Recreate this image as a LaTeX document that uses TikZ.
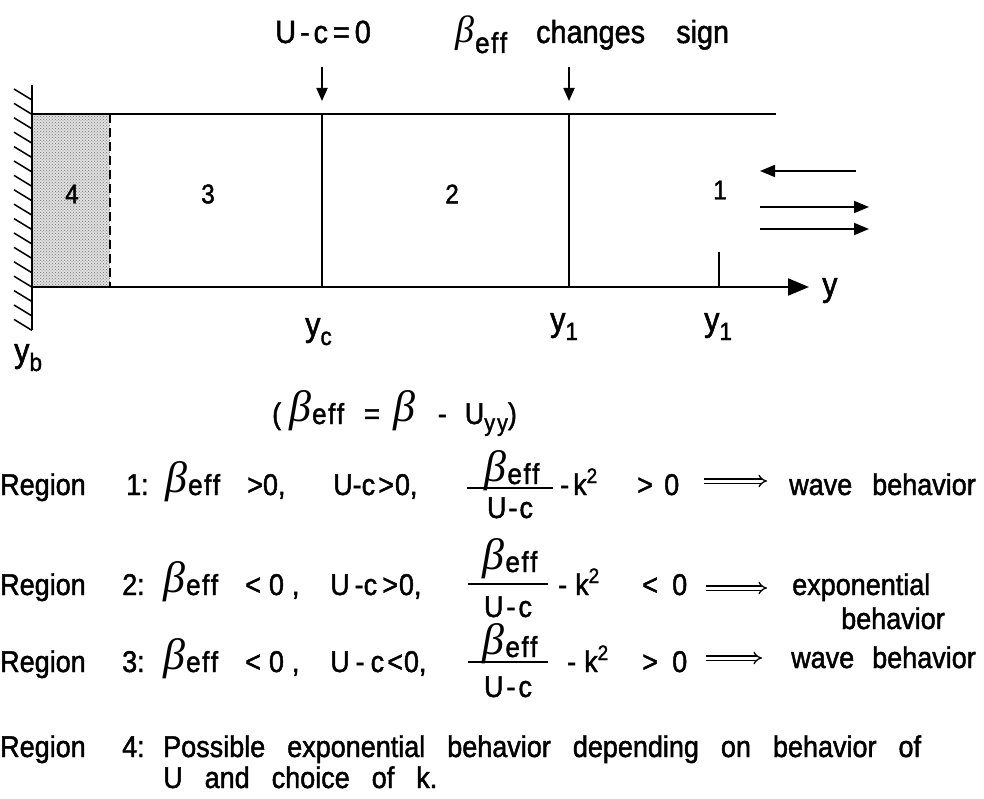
\documentclass[tikz,border=0pt]{standalone}
\usepackage{fontspec}
\setmainfont{Liberation Sans}[FakeStretch=0.9,FakeBold=1.5]
\newfontfamily\grk{Liberation Serif}
\usetikzlibrary{arrows.meta,patterns}
\newcommand{\Bsym}[2]{\raisebox{#2}{\fontsize{#1}{#1}\selectfont\grk\itshape β}}
\newcommand{\Effx}[1]{{\fontsize{#1}{#1}\selectfont e\kern1.5pt f\kern1.5pt f}}
\newcommand{\BeffR}{\Bsym{44}{3pt}\kern1pt\Effx{29}}
\newcommand{\BeffT}{\Bsym{38}{0pt}\kern1pt\raisebox{-10pt}{\Effx{29}}}
\newcommand{\ksq}{k\raisebox{12pt}{\fontsize{21}{21}\selectfont 2}}
\newcommand{\ysb}[1]{{\fontsize{34}{34}\selectfont y}\raisebox{-9pt}{\fontsize{25}{25}\selectfont #1}}
\begin{document}
\begin{tikzpicture}[x=1pt,y=-1pt,
  rt/.style={inner sep=0pt,anchor=base west,font=\fontsize{30}{30}\selectfont},
  rtc/.style={rt,anchor=base},
  tt/.style={inner sep=0pt,anchor=base west,font=\fontsize{32}{32}\selectfont},
  lab/.style={inner sep=0pt,font=\fontsize{27}{27}\selectfont},
  heavy/.style={line width=2.2pt},
  mid/.style={line width=1.8pt},
  bar/.style={line width=1.8pt},
  imp/.style={double,double distance=3pt,line width=1.3pt,-{Implies[length=10pt]}},
  arr/.style={line width=1.8pt,-{Triangle[length=15pt,width=12pt]}},
  darr/.style={line width=1.8pt,-{Triangle[length=13pt,width=11pt]}},
  axarr/.style={line width=2.2pt,-{Triangle[length=21pt,width=17pt]}}]
\useasboundingbox (0,0) rectangle (984,799);
\fill[white] (0,0) rectangle (984,799);

% ---------- channel ----------
\fill[black!12] (32,114) rectangle (110,287);
\fill[pattern=crosshatch dots,pattern color=black!55] (32,114) rectangle (110,287);
\coordinate (wt) at (32,85);
\coordinate (wb) at (32,330);
\draw[heavy] (wt) -- (wb);
\foreach \yy in {100,114.4,...,331}
  \draw[line width=1.5pt] (14,\yy-11) -- (32,\yy);
\coordinate (tl) at (32,114);
\coordinate (tr) at (776,114);
\draw[heavy] (tl) -- (tr);
\coordinate (al) at (32,287);
\coordinate (ar) at (809,287);
\draw[axarr] (al) -- (ar);
\node[lab,anchor=base west,font=\fontsize{34}{34}\selectfont] (ylab) at (822,296) {y};

\coordinate (d4t) at (110,114);
\coordinate (d4b) at (110,287);
\draw[mid,dash pattern=on 9pt off 5pt] (d4t) -- (d4b);

\coordinate (c1t) at (322,114);
\coordinate (c1b) at (322,287);
\draw[mid] (c1t) -- (c1b);
\coordinate (c2t) at (569,114);
\coordinate (c2b) at (569,287);
\draw[mid] (c2t) -- (c2b);
\coordinate (tk) at (719,252);
\coordinate (tkb) at (719,287);
\draw[mid] (tk) -- (tkb);

\node[lab] (n4) at (72,194) {4};
\node[lab] (n3) at (208,194) {3};
\node[lab] (n2) at (452,194) {2};
\node[lab] (n1) at (720,190) {1};

% waves
\coordinate (wa1) at (856,171); \coordinate (wa2) at (760,171);
\draw[arr] (wa1) -- (wa2);
\coordinate (wb1) at (760,207); \coordinate (wb2) at (869,207);
\draw[arr] (wb1) -- (wb2);
\coordinate (wc1) at (760,229); \coordinate (wc2) at (869,229);
\draw[arr] (wc1) -- (wc2);

% axis labels
\node[inner sep=0pt,anchor=base west] (yc) at (305,336) {\ysb{c}};
\node[inner sep=0pt,anchor=base west] (y1a) at (550,331) {\ysb{1}};
\node[inner sep=0pt,anchor=base west] (y1b) at (704,331) {\ysb{1}};
\node[inner sep=0pt,anchor=base west] (yb) at (14,362) {\ysb{b}};

% top labels
\node[tt] (uc) at (275,43) {U\kern4pt-\kern4pt c\kern5pt=\kern5pt 0};
\node[tt] (bt) at (455,43) {\BeffT};
\node[tt] (ch) at (536,43) {changes};
\node[tt] (sg) at (676,43) {sign};
\coordinate (a1s) at (322,67); \coordinate (a1e) at (322,101);
\draw[darr] (a1s) -- (a1e);
\coordinate (a2s) at (569,67); \coordinate (a2e) at (569,101);
\draw[darr] (a2s) -- (a2e);

% definition
\node[rt] (def) at (272,424) {(\kern8pt\BeffR\kern20pt=\kern14pt\Bsym{44}{3pt}\kern22pt-\kern18pt U\raisebox{-7pt}{\fontsize{24}{24}\selectfont y\kern2pt y})};

% ---------- Region 1 ----------
\node[rt] (r1a) at (0,495) {Region};
\node[rt] (r1b) at (126,495) {1:};
\node[rt] (r1c) at (165,495) {\BeffR};
\node[rt] (r1d) at (247,495) {>0,};
\node[rt] (r1e) at (333,495) {U-c\kern3pt>\kern1pt0,};
\node[rtc] (r1fn) at (512,484) {\BeffR};
\draw[bar] (467,488) -- (553,488);
\node[rtc] (r1fd) at (510,518) {U\kern2pt-\kern2pt c};
\node[rt] (r1g) at (560,495) {-\kern4pt\ksq};
\node[rt] (r1h) at (637,495) {>};
\node[rt] (r1i) at (664,495) {0};
\coordinate (r1s) at (704,481); \coordinate (r1t) at (767,481);
\draw[imp] (r1s) -- (r1t);
\node[rt] (r1j) at (789,495) {wave};
\node[rt] (r1k) at (872,495) {behavior};

% ---------- Region 2 ----------
\node[rt] (r2a) at (0,595) {Region};
\node[rt] (r2b) at (122,595) {2:};
\node[rt] (r2c) at (163,595) {\BeffR};
\node[rt] (r2d) at (245,595) {<\kern8pt0\kern8pt,};
\node[rt] (r2e) at (330,595) {U\kern5pt-c\kern5pt>\kern1pt0,};
\node[rtc] (r2fn) at (510,572) {\BeffR};
\draw[bar] (468,584) -- (548,584);
\node[rtc] (r2fd) at (508,617) {U\kern3pt-\kern3pt c};
\node[rt] (r2g) at (558,595) {-\kern8pt\ksq};
\node[rt] (r2h) at (642,595) {<};
\node[rt] (r2i) at (672,595) {0};
\coordinate (r2s) at (706,588); \coordinate (r2t) at (767,588);
\draw[imp] (r2s) -- (r2t);
\node[rt] (r2j) at (792,595) {exponential};
\node[rt] (r2k) at (841,629) {behavior};

% ---------- Region 3 ----------
\node[rt] (r3a) at (0,672) {Region};
\node[rt] (r3b) at (122,672) {3:};
\node[rt] (r3c) at (163,672) {\BeffR};
\node[rt] (r3d) at (245,672) {<\kern8pt0\kern8pt,};
\node[rt] (r3e) at (330,672) {U\kern6pt-\kern6pt c\kern3pt<\kern1pt0,};
\node[rtc] (r3fn) at (510,657) {\BeffR};
\draw[bar] (468,662) -- (548,662);
\node[rtc] (r3fd) at (508,697) {U\kern3pt-\kern3pt c};
\node[rt] (r3g) at (567,672) {-\kern8pt\ksq};
\node[rt] (r3h) at (642,672) {>};
\node[rt] (r3i) at (672,672) {0};
\coordinate (r3s) at (706,658); \coordinate (r3t) at (762,658);
\draw[imp] (r3s) -- (r3t);
\node[rt] (r3j) at (791,668) {wave};
\node[rt] (r3k) at (872,668) {behavior};

% ---------- Region 4 ----------
\node[rt] (r4a) at (0,757) {Region};
\node[rt] (r4b) at (122,757) {4:};
\node[rt] (r4c) at (163,757) {\spaceskip=22pt plus 2pt Possible exponential behavior depending on behavior of};
\node[rt] (r4d) at (163,788) {\spaceskip=22pt plus 2pt U and choice of k.};
\end{tikzpicture}
\end{document}
